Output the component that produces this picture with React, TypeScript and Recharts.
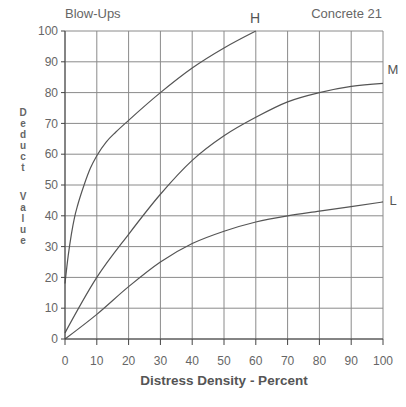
import { LineChart, Line, XAxis, YAxis, CartesianGrid } from 'recharts';

// distress density (%) and deduct values
const hDensity = [0, 1, 2, 3, 4, 6, 8, 10, 13, 16, 20, 30, 40, 50, 60];
const hDeduct = [18, 27, 34, 39.5, 43.5, 50, 55.5, 59.5, 64, 67.2, 71, 80, 88, 94.5, 100];
const density = [0, 10, 20, 30, 40, 50, 60, 70, 80, 90, 100];
const mDeduct = [2, 20, 34, 47, 58, 66, 72, 77, 80, 82, 83];
const lDeduct = [0, 8, 17, 25, 31, 35, 38, 40, 41.5, 43, 44.5];
const ticks = [0, 10, 20, 30, 40, 50, 60, 70, 80, 90, 100];
const yTitle = ['Deduct', 'Value'];

const hData = hDensity.map((x, i) => ({ x, y: hDeduct[i] }));
const mData = density.map((x, i) => ({ x, y: mDeduct[i] }));
const lData = density.map((x, i) => ({ x, y: lDeduct[i] }));

const font = '"Liberation Sans Narrow", "Liberation Sans", Arial, sans-serif';
const ink = '#555';

const App = () => {
  return (
    <div style={{ position: 'absolute', left: 0, top: 0, width: 406, height: 407, background: '#fff' }}>
      <LineChart width={406} height={407} margin={{ top: 31, right: 23, bottom: 38, left: 35 }}>
        <CartesianGrid stroke="#8a8a8a" strokeWidth={1} />
        <XAxis
          type="number"
          dataKey="x"
          domain={[0, 100]}
          ticks={ticks}
          height={30}
          tickSize={6}
          tickMargin={11}
          stroke="#444"
          tick={{ fill: '#666', fontSize: 12, fontFamily: font }}
          allowDuplicatedCategory={false}
        />
        <YAxis
          type="number"
          dataKey="y"
          domain={[0, 100]}
          ticks={ticks}
          width={30}
          tickSize={4}
          tickMargin={3}
          stroke="#444"
          tick={{ fill: '#666', fontSize: 12, fontFamily: font }}
        />
        <Line data={hData} dataKey="y" type="monotone" stroke={ink} strokeWidth={1.2} dot={false} isAnimationActive={false} />
        <Line data={mData} dataKey="y" type="monotone" stroke={ink} strokeWidth={1.2} dot={false} isAnimationActive={false} />
        <Line data={lData} dataKey="y" type="monotone" stroke={ink} strokeWidth={1.2} dot={false} isAnimationActive={false} />

        <text x={65} y={18} fill="#666" fontSize={13} fontFamily={font}>Blow-Ups</text>
        <text x={255} y={23} fill="#555" fontSize={14} fontFamily={font} textAnchor="middle">H</text>
        <text x={382} y={18} fill="#666" fontSize={13} fontFamily={font} textAnchor="end">Concrete 21</text>
        <text x={393} y={74} fill="#555" fontSize={13} fontFamily={font} textAnchor="middle">M</text>
        <text x={393} y={205} fill="#555" fontSize={13} fontFamily={font} textAnchor="middle">L</text>
        <text x={224} y={385} fill="#555" fontSize={13.5} fontWeight="bold" fontFamily={font} textAnchor="middle">
          Distress Density - Percent
        </text>
        {yTitle.map((word, w) =>
          word.split('').map((c, i) => (
            <text
              key={`${w}-${i}`}
              x={23}
              y={116 + w * 84 + i * 11}
              fill="#666"
              fontSize={10}
              fontWeight="bold"
              fontFamily={font}
              textAnchor="middle"
            >
              {c}
            </text>
          ))
        )}
      </LineChart>
    </div>
  );
};

export default App;
